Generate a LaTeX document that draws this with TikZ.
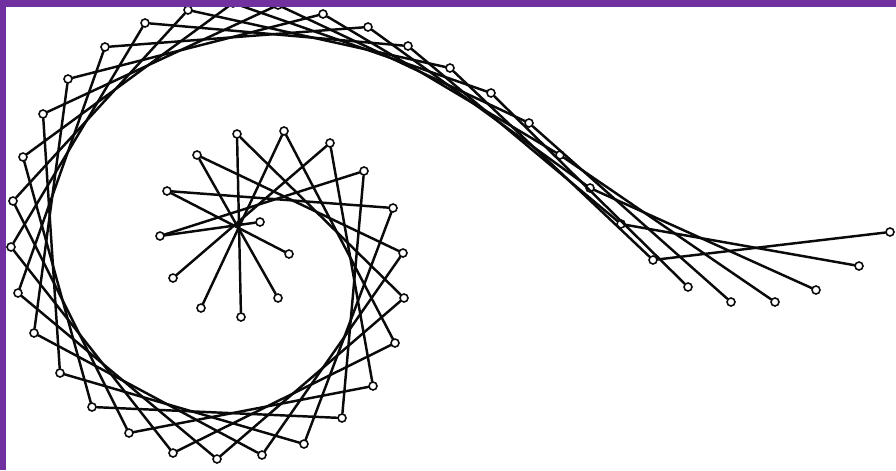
\documentclass[tikz,border=0pt]{standalone}
\usepackage{xcolor}
\usepackage{tikz}
\usetikzlibrary{calc}
\definecolor{myframe}{RGB}{112,48,160}
\definecolor{mydark}{RGB}{10,10,10}
\tikzset{
  pin/.style={circle, draw=mydark, fill=white, inner sep=0pt,
    minimum size=0.16cm, line width=0.9pt},
  chord/.style={line width=1.4pt, color=mydark, line cap=round},
  frame/.style={fill=myframe, draw=none}
}

\begin{document}
\begin{tikzpicture}[x=0.02cm, y=-0.02cm]
    \useasboundingbox (0,0) rectangle (896,470);

    % Pins along the spiral
    \foreach \x/\y [count=\i from 0] in {
      260/222, 289/254, 278/298, 241/317, 201/308, 173/278, 160/236, 167/191,
      197/155, 237/134, 284/131, 330/143, 364/171, 393/208, 403/253, 404/298,
      395/343, 373/386, 342/418, 304/444, 262/455, 217/459, 173/453, 129/433,
      92/407, 60/373, 34/333, 18/293, 11/247, 13/201, 23/157, 43/114,
      68/79, 105/47, 145/23, 188/10, 233/3, 278/5, 323/14, 368/27,
      408/46, 450/68, 491/93, 529/123, 560/155, 590/188, 621/224, 653/260,
      688/287, 731/302, 775/302, 816/290, 859/266, 890/232}
      \node[pin] (p\i) at (\x,\y) {};

    % Chords, each pin to the sixth one after it
    \foreach \i in {0,...,47} {
      \pgfmathtruncatemacro{\j}{\i+6}
      \draw[chord] (p\i) -- (p\j);
    }

    % Frame
    \fill[frame] (0,0) rectangle (896,7);
    \fill[frame] (0,0) rectangle (6,470);
  \end{tikzpicture}
\end{document}
